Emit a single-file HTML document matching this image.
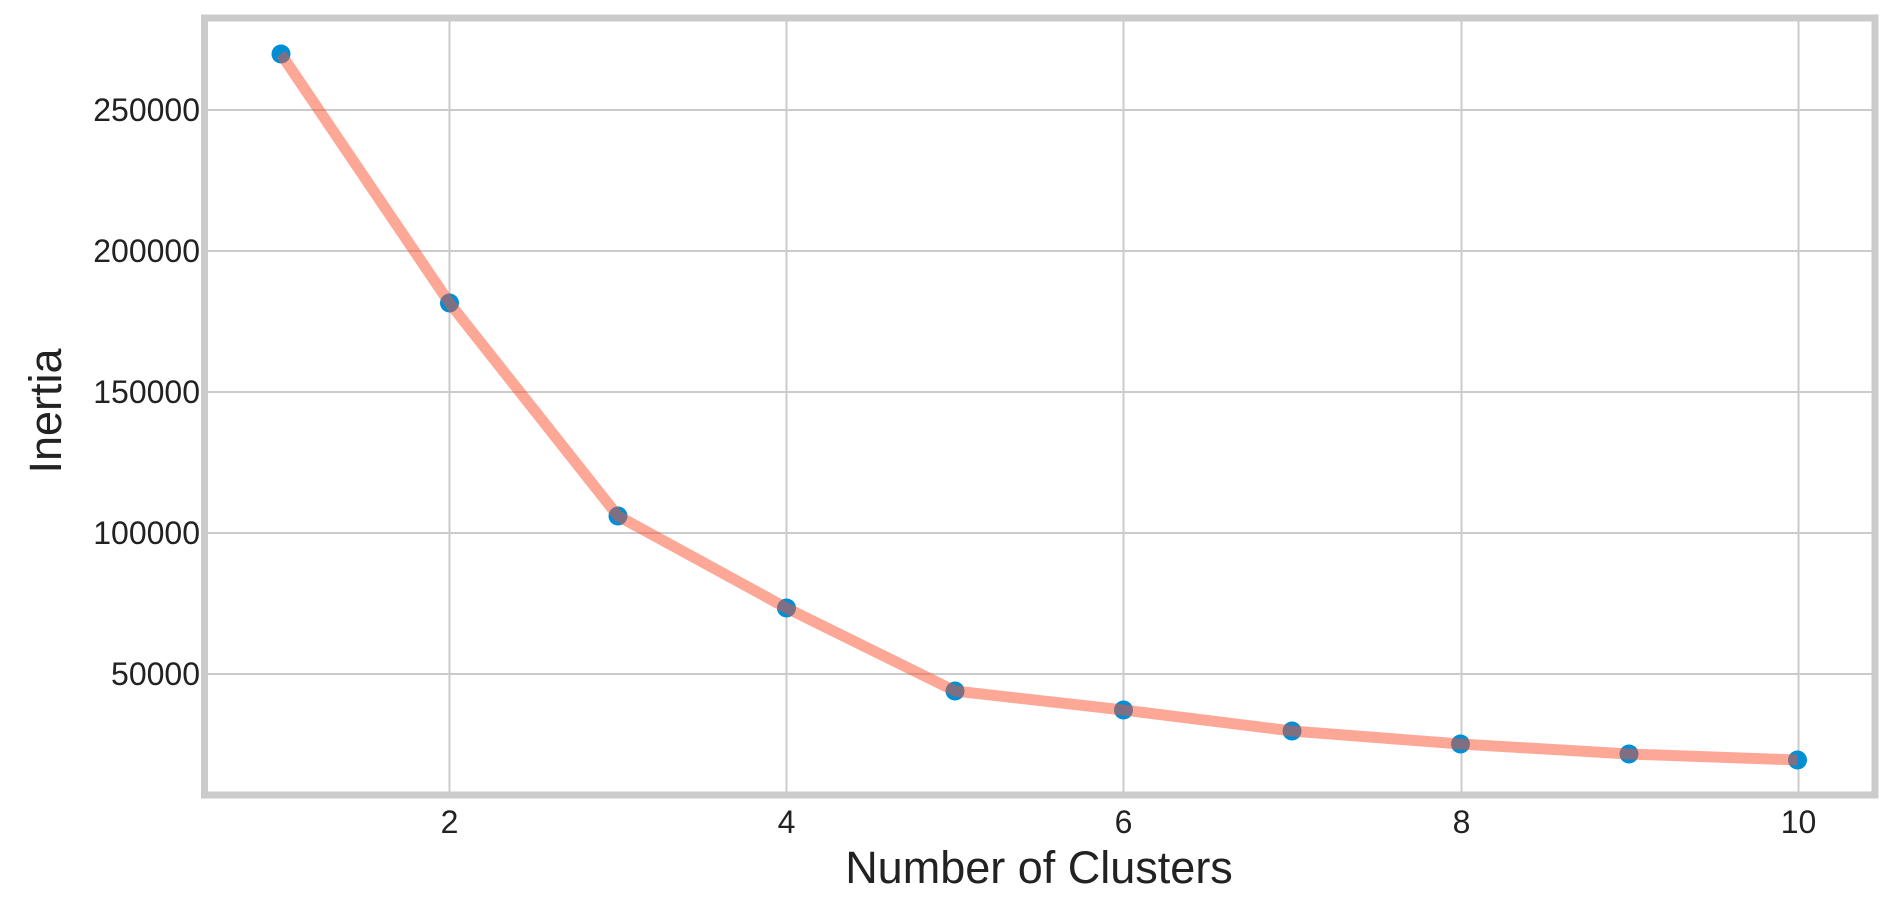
<!DOCTYPE html>
<html><head><style>body{margin:0;background:#fff}</style></head><body>
<svg width="1894" height="910" xmlns="http://www.w3.org/2000/svg" font-family="Liberation Sans, DejaVu Sans, sans-serif">
<rect width="1894" height="910" fill="#fff"/>
<g stroke="#cbcbcb" stroke-width="2">
<line x1="449.5" y1="18" x2="449.5" y2="795"/>
<line x1="786.5" y1="18" x2="786.5" y2="795"/>
<line x1="1123.5" y1="18" x2="1123.5" y2="795"/>
<line x1="1461.5" y1="18" x2="1461.5" y2="795"/>
<line x1="1798.5" y1="18" x2="1798.5" y2="795"/>
<line x1="204" y1="110" x2="1875" y2="110"/>
<line x1="204" y1="251" x2="1875" y2="251"/>
<line x1="204" y1="392" x2="1875" y2="392"/>
<line x1="204" y1="533" x2="1875" y2="533"/>
<line x1="204" y1="674" x2="1875" y2="674"/>
</g>
<rect x="204.5" y="18" width="1670.5" height="777" fill="none" stroke="#cbcbcb" stroke-width="7"/>
<g fill="#008fd5">
<circle cx="281" cy="54" r="9.5"/><circle cx="449.5" cy="303" r="9.5"/><circle cx="618" cy="516" r="9.5"/><circle cx="786.5" cy="608" r="9.5"/><circle cx="955" cy="691" r="9.5"/><circle cx="1123.5" cy="710" r="9.5"/><circle cx="1292" cy="731" r="9.5"/><circle cx="1460.5" cy="744" r="9.5"/><circle cx="1629" cy="754" r="9.5"/><circle cx="1797.5" cy="760" r="9.5"/>
</g>
<polyline points="281,54 449.5,303 618,516 786.5,608 955,691 1123.5,710 1292,731 1460.5,744 1629,754 1797.5,760" fill="none" stroke="#fc4f30" stroke-opacity="0.5" stroke-width="11" stroke-linejoin="round"/>
<g font-size="32" fill="#222" text-anchor="end">
<text x="200" y="121">250000</text>
<text x="200" y="262">200000</text>
<text x="200" y="403">150000</text>
<text x="200" y="544">100000</text>
<text x="200" y="685">50000</text>
</g>
<g font-size="32" fill="#222" text-anchor="middle">
<text x="449.5" y="833">2</text>
<text x="786.5" y="833">4</text>
<text x="1123.5" y="833">6</text>
<text x="1461.5" y="833">8</text>
<text x="1798.5" y="833">10</text>
</g>
<text x="1039" y="883" font-size="45" fill="#222" text-anchor="middle">Number of Clusters</text>
<text transform="translate(61,411) rotate(-90)" font-size="45" fill="#222" text-anchor="middle">Inertia</text>
</svg>
</body></html>
